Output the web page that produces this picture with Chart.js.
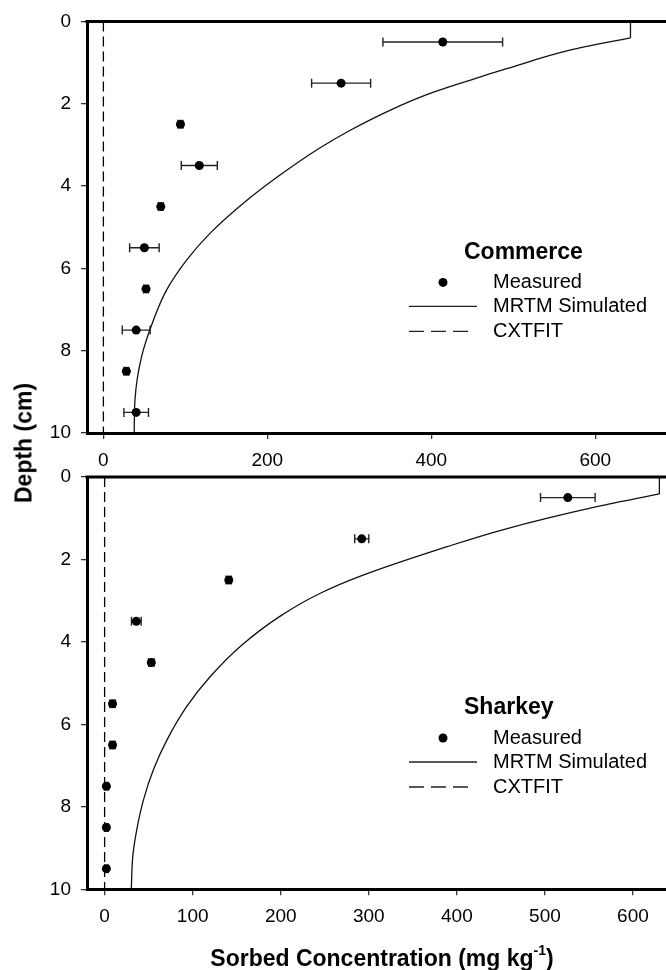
<!DOCTYPE html>
<html>
<head>
<meta charset="utf-8">
<script src="https://cdn.jsdelivr.net/npm/chart.js@4.4.0/dist/chart.umd.min.js"></script>
<style>
html, body { margin: 0; padding: 0; overflow: hidden; background: #fff; width: 666px; height: 970px; }
canvas { position: absolute; left: 0; }
#top { top: 0; }
#bottom { top: 445px; }
.axtitle { position: absolute; font-family: "Liberation Sans", Arial, sans-serif; font-weight: bold; font-size: 23px; color: #000; white-space: nowrap; line-height: 1; }
#ytitle { left: 24px; top: 443px; transform: translate(-50%, -50%) rotate(-90deg); }
#xtitle { left: 382px; top: 958px; transform: translate(-50%, -50%); }
#xtitle sup { font-size: 14px; line-height: 0; position: relative; top: -2px; }
</style>
</head>
<body>
<canvas id="top" width="690" height="475"></canvas>
<canvas id="bottom" width="690" height="525"></canvas>
<div id="ytitle" class="axtitle">Depth (cm)</div>
<div id="xtitle" class="axtitle">Sorbed Concentration (mg kg<sup>-1</sup>)</div>
<script>
// measured depths (cm), same for both soils
const depths = [0.5, 1.5, 2.5, 3.5, 4.5, 5.5, 6.5, 7.5, 8.5, 9.5];

// Commerce
const commerceMeasured = [414, 290, 94, 117, 70, 50, 52, 40, 28, 40];
const commerceError = [73, 36, 3, 22, 3, 18, 3, 17, 3, 15];
const commerceMrtmDepth = [0, 0.4, 0.7, 1.15, 1.43, 1.75, 2.16, 2.65, 3.1, 3.74, 4.43, 5.15, 5.8, 6.53, 7.26, 8.15, 9.2, 10];
const commerceMrtm = [643, 643, 569, 492, 447, 398.5, 349.5, 300.6, 262, 215, 170, 130, 101.5, 77, 61, 46.5, 38.5, 37.6];
const commerceCxtDepth = [0, 10];
const commerceCxt = [0, 0];

// Sharkey
const sharkeyMeasured = [526, 292, 141, 36, 53, 9, 9, 2, 2, 2];
const sharkeyError = [31, 8, 3, 5.5, 3, 3, 3, 2, 2, 2];
const sharkeyMrtmDepth = [0, 0.41, 0.72, 1.28, 1.69, 2.37, 2.82, 3.38, 4.11, 4.84, 5.56, 6.37, 7.09, 7.82, 8.5, 9.2, 10];
const sharkeyMrtm = [630, 630, 559, 452, 389, 295, 245, 199, 154, 120, 93.5, 71, 55.6, 44.3, 37, 32, 30.3];
const sharkeyCxtDepth = [0, 10];
const sharkeyCxt = [0, 0];

// tick labels
const depthTicks = [0, 2, 4, 6, 8, 10];
const commerceXTicks = [0, 200, 400, 600];
const sharkeyXTicks = [0, 100, 200, 300, 400, 500, 600];

const FAMILY = '"Liberation Sans", Arial, sans-serif';

function pts(xs, ys) {
    return xs.map((v, i) => ({x: v, y: ys[i]}));
}

function decor(title, values, errors) {
    return {
        id: 'decor',
        beforeDatasetsDraw(chart) {
            const {ctx} = chart;
            const x = chart.scales.x, y = chart.scales.y;
            ctx.save();
            ctx.strokeStyle = '#222';
            ctx.lineWidth = 1.4;
            values.forEach((v, i) => {
                const py = y.getPixelForValue(depths[i]);
                const x1 = x.getPixelForValue(v - errors[i]);
                const x2 = x.getPixelForValue(v + errors[i]);
                ctx.beginPath();
                ctx.moveTo(x1, py); ctx.lineTo(x2, py);
                ctx.moveTo(x1, py - 4.5); ctx.lineTo(x1, py + 4.5);
                ctx.moveTo(x2, py - 4.5); ctx.lineTo(x2, py + 4.5);
                ctx.stroke();
            });
            ctx.restore();
        },
        afterDraw(chart) {
            const {ctx, chartArea: a} = chart;
            ctx.save();
            // top frame
            ctx.strokeStyle = '#000';
            ctx.lineWidth = 3;
            ctx.beginPath();
            ctx.moveTo(a.left - 1.5, a.top);
            ctx.lineTo(a.right, a.top);
            ctx.stroke();

            // legend
            ctx.fillStyle = '#000';
            ctx.textBaseline = 'middle';
            ctx.textAlign = 'left';
            ctx.font = 'bold 23px ' + FAMILY;
            ctx.fillText(title, a.left + 377, a.top + 231);

            ctx.font = '20px ' + FAMILY;
            ctx.fillText('Measured', a.left + 406, a.top + 261);
            ctx.fillText('MRTM Simulated', a.left + 406, a.top + 285);
            ctx.fillText('CXTFIT', a.left + 406, a.top + 310);

            ctx.beginPath();
            ctx.arc(a.left + 356, a.top + 261, 4.5, 0, Math.PI * 2);
            ctx.fill();

            ctx.strokeStyle = '#222';
            ctx.lineWidth = 1.4;
            ctx.beginPath();
            ctx.moveTo(a.left + 322, a.top + 285);
            ctx.lineTo(a.left + 390, a.top + 285);
            ctx.stroke();
            ctx.setLineDash([15, 7]);
            ctx.beginPath();
            ctx.moveTo(a.left + 322, a.top + 310);
            ctx.lineTo(a.left + 383, a.top + 310);
            ctx.stroke();
            ctx.restore();
        }
    };
}

function panel(id, p) {
    const axisCommon = {
        grid: {drawOnChartArea: false, tickLength: 6, color: '#333', lineWidth: 1.3},
        border: {display: true, color: '#000', width: 3},
        ticks: {font: {family: FAMILY, size: 19}, color: '#000', padding: 10, maxRotation: 0, autoSkip: false}
    };
    new Chart(document.getElementById(id), {
        type: 'scatter',
        data: {
            datasets: [
                {
                    type: 'line', label: 'CXTFIT',
                    data: pts(p.cxt, p.cxtDepth),
                    borderColor: '#000', borderWidth: 1.3, borderDash: [10, 5],
                    pointRadius: 0, tension: 0
                },
                {
                    type: 'line', label: 'MRTM top',
                    data: pts(p.mrtm.slice(0, 2), p.mrtmDepth.slice(0, 2)),
                    borderColor: '#111', borderWidth: 1.3, pointRadius: 0, tension: 0
                },
                {
                    type: 'line', label: 'MRTM Simulated', indexAxis: 'y',
                    data: pts(p.mrtm.slice(1), p.mrtmDepth.slice(1)),
                    borderColor: '#111', borderWidth: 1.3, pointRadius: 0,
                    cubicInterpolationMode: 'monotone'
                },
                {
                    type: 'scatter', label: 'Measured',
                    data: pts(p.measured, depths),
                    backgroundColor: '#000', borderWidth: 0, pointRadius: 4.5
                }
            ]
        },
        options: {
            responsive: false,
            animation: false,
            layout: {padding: {top: p.padTop, right: p.padRight, left: 0, bottom: 0}},
            plugins: {legend: {display: false}, tooltip: {enabled: false}},
            scales: {
                x: Object.assign({}, axisCommon, {
                    type: 'linear', min: -20, max: p.xMax,
                    afterBuildTicks: s => { s.ticks = p.xTicks.map(v => ({value: v})); },
                    afterFit: s => { s.height = p.xHeight; }
                }),
                y: Object.assign({}, axisCommon, {
                    type: 'linear', reverse: true, min: 0, max: 10,
                    afterBuildTicks: s => { s.ticks = depthTicks.map(v => ({value: v})); },
                    afterFit: s => { s.width = 87; }
                })
            }
        },
        plugins: [decor(p.title, p.measured, p.errors)]
    });
}

panel('top', {
    title: 'Commerce', measured: commerceMeasured, errors: commerceError,
    mrtm: commerceMrtm, mrtmDepth: commerceMrtmDepth,
    cxt: commerceCxt, cxtDepth: commerceCxtDepth,
    xTicks: commerceXTicks, xMax: 700,
    padTop: 21, padRight: 12.8, xHeight: 42
});

panel('bottom', {
    title: 'Sharkey', measured: sharkeyMeasured, errors: sharkeyError,
    mrtm: sharkeyMrtm, mrtmDepth: sharkeyMrtmDepth,
    cxt: sharkeyCxt, cxtDepth: sharkeyCxtDepth,
    xTicks: sharkeyXTicks, xMax: 650,
    padTop: 32, padRight: 13, xHeight: 80.7
});
</script>
</body>
</html>
